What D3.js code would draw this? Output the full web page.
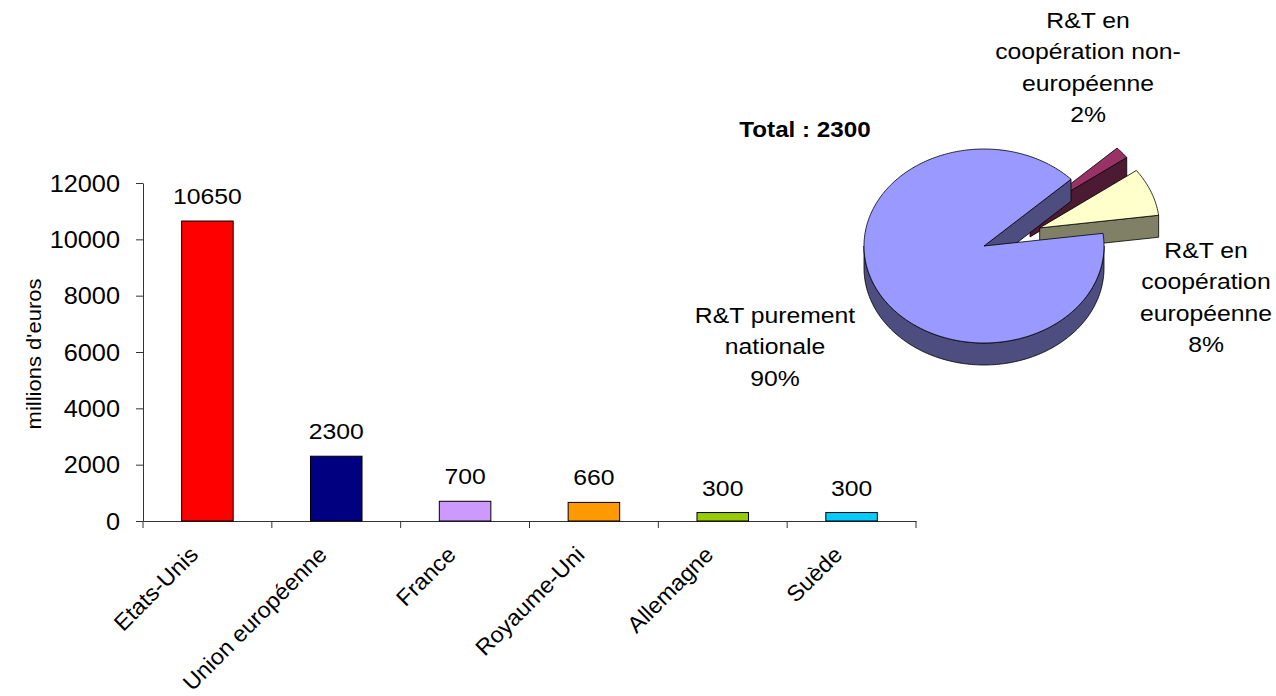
<!DOCTYPE html>
<html lang="fr">
<head>
<meta charset="UTF-8">
<title>R&amp;T</title>
<script src="https://cdn.jsdelivr.net/npm/d3@7"></script>
<style>
  html, body { margin: 0; padding: 0; background: #fff; }
  svg text { font-family: "Liberation Sans", Arial, sans-serif; fill: #000; }
</style>
</head>
<body>
<svg id="chart" width="1276" height="696"></svg>
<script>
// bar chart data (millions d'euros)
var countries = ["Etats-Unis", "Union européenne", "France", "Royaume-Uni", "Allemagne", "Suède"];
var budgets = [10650, 2300, 700, 660, 300, 300];
var barColors = ["#FF0000", "#000080", "#CC99FF", "#FF9900", "#99CC00", "#00CCFF"];
var yTicks = [0, 2000, 4000, 6000, 8000, 10000, 12000];

// pie data (share of the EU total)
var pieTotal = 2300;
var pieLines = [["R&T purement", "nationale"], ["R&T en", "coopération", "européenne"], ["R&T en", "coopération non-", "européenne"]];
var pieShares = [90, 8, 2];
var pieTops = ["#9999FF", "#FFFFCC", "#993366"];
var pieSides = ["#4D4D80", "#808066", "#4D1A33"];

var SX = 1.1, FS = 22.5, LH = 31.3;   // Excel-ish wide text
var svg = d3.select("#chart");

function label(g, x, y, rot, txt, anchor, sx) {
    return g.append("text")
        .attr("transform", "translate(" + x + "," + y + ") rotate(" + rot + ") scale(" + (sx || SX) + ",1)")
        .attr("text-anchor", anchor)
        .style("font-size", FS + "px")
        .text(txt);
}

// ---------- bar chart ----------
var plotL = 143, plotR = 916, plotT = 183, plotB = 521;

var x = d3.scaleBand().domain(countries).range([plotL, plotR]).padding(0);
var y = d3.scaleLinear().domain([0, 12000]).range([plotB, plotT]);
var barW = x.bandwidth() * 0.4;

var yAxis = svg.append("g")
    .attr("transform", "translate(" + plotL + ",0)")
    .call(d3.axisLeft(y).tickValues(yTicks).tickFormat(d3.format("d")).tickSize(7).tickSizeOuter(0));
yAxis.select(".domain").attr("stroke", "#333");
yAxis.selectAll(".tick line").attr("stroke", "#333");
yAxis.selectAll(".tick text")
    .attr("x", null).attr("dy", "0.35em")
    .attr("transform", "translate(-23,0) scale(" + SX + ",1)")
    .style("font-size", "23px")
    .style("font-family", "'Liberation Sans', Arial, sans-serif")
    .attr("fill", "#000");

svg.append("text")
    .attr("transform", "translate(41,354) rotate(-90) scale(" + SX + ",1)")
    .attr("text-anchor", "middle")
    .style("font-size", "20px")
    .text("millions d'euros");

var xAxis = svg.append("g")
    .attr("transform", "translate(0," + plotB + ")")
    .call(d3.axisBottom(x).tickSize(0).tickFormat("").tickSizeOuter(0));
xAxis.select(".domain").attr("stroke", "#333");
xAxis.selectAll(".tick").remove();

// category boundary ticks
svg.append("g").selectAll("line")
    .data(countries.concat([null]))
    .join("line")
    .attr("x1", function (d) { return d === null ? x.range()[1] : x(d); })
    .attr("x2", function (d) { return d === null ? x.range()[1] : x(d); })
    .attr("y1", plotB).attr("y2", plotB + 7)
    .attr("stroke", "#333");

svg.append("g").selectAll("rect")
    .data(budgets)
    .join("rect")
    .attr("x", function (d, i) { return x(countries[i]) + (x.bandwidth() - barW) / 2; })
    .attr("y", function (d) { return y(d); })
    .attr("width", barW)
    .attr("height", function (d) { return plotB - y(d); })
    .attr("fill", function (d, i) { return barColors[i]; })
    .attr("stroke", "#000")
    .attr("stroke-width", 1);

var valG = svg.append("g");
budgets.forEach(function (d, i) {
    label(valG, x(countries[i]) + x.bandwidth() / 2, y(d) - 17, 0, d, "middle");
});

var catG = svg.append("g");
countries.forEach(function (c) {
    label(catG, x(c) + x.bandwidth() / 2 - 8, plotB + 35, -45, c, "end", 1.04);
});

// ---------- 3D pie ----------
var cx = 984, cy = 246, rx = 120, k = 97 / 120, depth = 22, explode = 60;
var deg = Math.PI / 180;

var pie = d3.pie().sort(null)
    .startAngle(406.5 * deg).endAngle(46.5 * deg)
    .value(function (d) { return d; });
var arcs = pie(pieShares).map(function (a, i) {
    var a0 = Math.min(a.startAngle, a.endAngle), a1 = Math.max(a.startAngle, a.endAngle);
    var mid = (a0 + a1) / 2;
    var off = i === 0 ? 0 : explode;
    return { i: i, a0: a0, a1: a1,
        ox: cx + off * Math.sin(mid), oy: cy - off * Math.cos(mid) * k };
});

function pt(s, a, dz) {
    return [s.ox + rx * Math.sin(a), s.oy - rx * Math.cos(a) * k + (dz || 0)];
}
function arcPts(s, b0, b1, dz) {
    var n = Math.max(2, Math.ceil((b1 - b0) / (1 * deg)));
    return d3.range(n + 1).map(function (j) { return pt(s, b0 + (b1 - b0) * j / n, dz); });
}
var line = d3.line();
var pieG = svg.append("g").attr("stroke", "#000").attr("stroke-width", 0.8).attr("stroke-linejoin", "round");

// back slices first, main slice last
[2, 1, 0].forEach(function (i) {
    var s = arcs[i];
    var g = pieG.append("g");
    var c = [s.ox, s.oy], cd = [s.ox, s.oy + depth];
    // radial faces
    [[s.a1, Math.sin(s.a1) > 0], [s.a0, Math.sin(s.a0) < 0]].forEach(function (f) {
        if (!f[1]) return;
        var p = pt(s, f[0]), pd = pt(s, f[0], depth);
        g.append("path").attr("d", line([c, p, pd, cd]) + "Z").attr("fill", pieSides[i]);
    });
    // outer wall (front half only: 90..270 deg, shifted by full turns)
    for (var t = 0; t <= 1; t++) {
        var w0 = Math.max(s.a0, (90 + 360 * t) * deg), w1 = Math.min(s.a1, (270 + 360 * t) * deg);
        if (w1 > w0) {
            var up = arcPts(s, w0, w1, 0), dn = arcPts(s, w0, w1, depth).reverse();
            g.append("path").attr("d", line(up.concat(dn)) + "Z").attr("fill", pieSides[i]);
        }
    }
    // top face
    g.append("path").attr("d", line([c].concat(arcPts(s, s.a0, s.a1, 0))) + "Z").attr("fill", pieTops[i]);
});

// pie labels
var pieLabelPos = [[775, 323], [1206, 258], [1088, 28]];
var pl = svg.append("g");
pieLines.forEach(function (lines, i) {
    lines.concat([pieShares[i] + "%"]).forEach(function (t, j) {
        label(pl, pieLabelPos[i][0], pieLabelPos[i][1] + j * LH, 0, t, "middle");
    });
});

svg.append("text")
    .attr("transform", "translate(805,137) scale(" + SX + ",1)")
    .attr("text-anchor", "middle")
    .style("font-size", "22px")
    .style("font-weight", "bold")
    .text("Total : " + pieTotal);
</script>
</body>
</html>
